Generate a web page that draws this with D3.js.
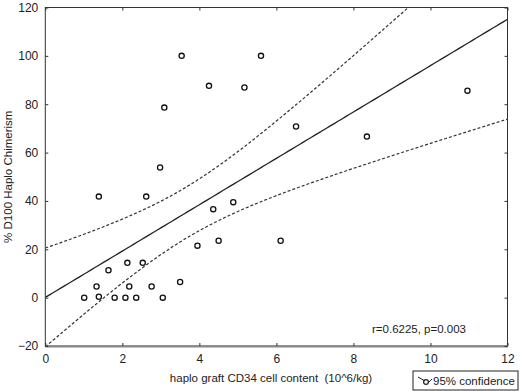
<!DOCTYPE html>
<html>
<head>
<meta charset="utf-8">
<script src="https://cdn.jsdelivr.net/npm/d3@7"></script>
<style>
  body { margin: 0; background: #fff; }
  text { font-family: "Liberation Sans", Arial, sans-serif; fill: #222; white-space: pre; }
</style>
</head>
<body>
<div id="chart"></div>
<script>
// CD34 cell dose (10^6/kg) and % haplo chimerism at day 100
const cd34 = [3.54, 5.60, 4.25, 5.17, 3.09, 2.98, 1.39, 2.62, 6.51, 8.35, 10.96, 4.36, 4.88, 4.50,
              3.95, 3.50, 2.13, 2.53, 1.64, 1.33, 2.18, 2.76, 1.39, 1.01, 1.80, 2.08, 2.36, 3.05, 6.11]
const chimerism = [100, 100, 87.6, 86.9, 78.6, 53.8, 41.8, 41.8, 70.8, 66.6, 85.6, 36.6, 39.5, 23.5,
                   21.5, 6.5, 14.4, 14.4, 11.3, 4.6, 4.6, 4.6, 0.4, 0, 0, 0, 0, 0, 23.5]
const xTicks = [0, 2, 4, 6, 8, 10, 12]
const yTicks = [-20, 0, 20, 40, 60, 80, 100, 120]
const statText = "r=0.6225, p=0.003"

const W = 520, H = 391
const margin = {top: 7.5, right: 12.5, bottom: 45, left: 45.3}

const x = d3.scaleLinear().domain([0, 12]).range([margin.left, W - margin.right])
const y = d3.scaleLinear().domain([-20, 120]).range([H - margin.bottom, margin.top])

const svg = d3.select("#chart").append("svg")
    .attr("width", W)
    .attr("height", H)

const clip = svg.append("clipPath").attr("id", "plot")
    .append("rect")
        .attr("x", x(0)).attr("y", y(120))
        .attr("width", x(12) - x(0)).attr("height", y(-20) - y(120))

// linear fit + 95% confidence band for the mean
const pts = cd34.map((v, i) => [v, chimerism[i]])
const n = pts.length
const mx = d3.mean(cd34), my = d3.mean(chimerism)
const sxx = d3.sum(cd34, v => (v - mx) ** 2)
const sxy = d3.sum(pts, ([a, b]) => (a - mx) * (b - my))
const slope = sxy / sxx
const icpt = my - slope * mx
const s = Math.sqrt(d3.sum(pts, ([a, b]) => (b - icpt - slope * a) ** 2) / (n - 2))
const tval = 2.052
const band = d3.range(0, 12.01, 0.1).map(v => {
    const f = icpt + slope * v
    const h = tval * s * Math.sqrt(1 / n + (v - mx) ** 2 / sxx)
    return {v, f, lo: f - h, hi: f + h}
})

const g = svg.append("g").attr("clip-path", "url(#plot)")

g.append("path")
    .datum(band)
    .attr("fill", "none").attr("stroke", "#222").attr("stroke-width", 1.3)
    .attr("d", d3.line().x(d => x(d.v)).y(d => y(d.f)))

for (const k of ["lo", "hi"]) {
    g.append("path")
        .datum(band)
        .attr("fill", "none").attr("stroke", "#333").attr("stroke-width", 1.2)
        .attr("stroke-dasharray", "3,2")
        .attr("d", d3.line().x(d => x(d.v)).y(d => y(d[k])))
}

g.selectAll("circle.pt")
    .data(pts)
    .join("circle")
        .attr("class", "pt")
        .attr("cx", d => x(d[0]))
        .attr("cy", d => y(d[1]))
        .attr("r", 2.6)
        .attr("fill", "none")
        .attr("stroke", "#111")
        .attr("stroke-width", 1.3)

// frame with inward ticks
const frame = svg.append("g")
frame.append("rect")
    .attr("x", x(0)).attr("y", y(120))
    .attr("width", x(12) - x(0)).attr("height", y(-20) - y(120))
    .attr("fill", "none").attr("stroke", "#333").attr("stroke-width", 1)
frame.append("line")
    .attr("x1", x(0)).attr("x2", x(12) + 0.5)
    .attr("y1", y(-20) + 0.5).attr("y2", y(-20) + 0.5)
    .attr("stroke", "#888").attr("stroke-width", 2)

svg.append("g")
    .attr("transform", `translate(0, ${y(-20)})`)
    .call(d3.axisBottom(x).tickValues(xTicks).tickSizeInner(-3).tickSizeOuter(0).tickPadding(8))
svg.append("g")
    .attr("transform", `translate(0, ${y(120)})`)
    .call(d3.axisTop(x).tickValues(xTicks).tickSizeInner(-3).tickSizeOuter(0).tickFormat(""))
svg.append("g")
    .attr("transform", `translate(${x(0)}, 0)`)
    .call(d3.axisLeft(y).tickValues(yTicks).tickSizeInner(-3).tickSizeOuter(0).tickPadding(7))
svg.append("g")
    .attr("transform", `translate(${x(12)}, 0)`)
    .call(d3.axisRight(y).tickValues(yTicks).tickSizeInner(-3).tickSizeOuter(0).tickFormat(""))

svg.selectAll(".domain").remove()
svg.selectAll(".tick line").attr("stroke", "#333")
svg.selectAll(".tick text")
    .attr("font-size", 12)
    .attr("font-family", "Liberation Sans, Arial, sans-serif")
    .attr("fill", "#222")

svg.append("text")
    .attr("x", 271).attr("y", 382)
    .attr("text-anchor", "middle")
    .attr("font-size", 11.5)
    .text("haplo graft CD34 cell content  (10^6/kg)")

svg.append("text")
    .attr("transform", `translate(12, ${(y(120) + y(-20)) / 2}) rotate(-90)`)
    .attr("text-anchor", "middle")
    .attr("font-size", 11.5)
    .text("% D100 Haplo Chimerism")

svg.append("text")
    .attr("x", 466).attr("y", 333)
    .attr("text-anchor", "end")
    .attr("font-size", 11.5)
    .text(statText)

// legend
const leg = svg.append("g").attr("transform", "translate(413, 371)")
leg.append("rect")
    .attr("width", 105).attr("height", 19)
    .attr("fill", "#fff").attr("stroke", "#222")
leg.append("path")
    .attr("d", "M5,6 L12,10 M15,12 L19,8")
    .attr("fill", "none").attr("stroke", "#222").attr("stroke-width", 1)
leg.append("circle")
    .attr("cx", 13).attr("cy", 11).attr("r", 2.4)
    .attr("fill", "none").attr("stroke", "#222").attr("stroke-width", 1.2)
leg.append("text")
    .attr("x", 20).attr("y", 14)
    .attr("font-size", 11.5)
    .text("95% confidence")
</script>
</body>
</html>
